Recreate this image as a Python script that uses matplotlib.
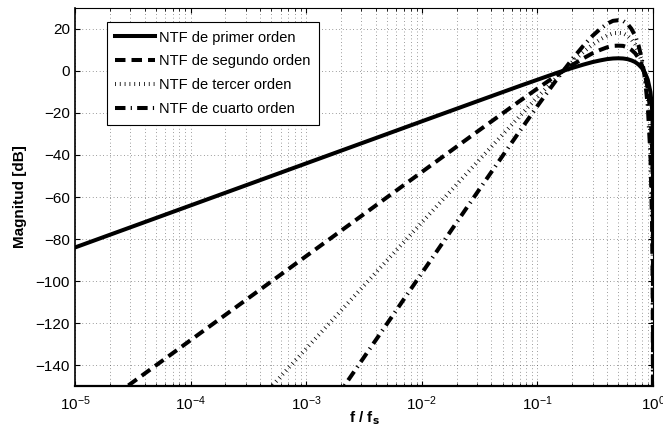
import matplotlib
matplotlib.use("Agg")
import matplotlib.pyplot as plt
import numpy as np

plt.rcParams['font.family'] = ['Liberation Sans', 'DejaVu Sans']

# === Data ===
freq = [1e-5, 1e-4, 1e-3, 1e-2, 0.03, 0.05, 0.07, 0.1, 0.15, 0.2, 0.25, 0.3, 0.35,
        0.4, 0.45, 0.5, 0.55, 0.6, 0.65, 0.7, 0.75, 0.8, 0.85, 0.9, 0.95, 0.98,
        0.99, 0.995, 0.999, 0.9999, 0.99999]
mag_1 = [-84.0, -64.0, -44.0, -24.0, -14.5, -10.1, -7.2, -4.2, -0.8, 1.4, 3.0, 4.2,
         5.0, 5.6, 5.9, 6.0, 5.9, 5.6, 5.0, 4.2, 3.0, 1.4, -0.8, -4.2, -10.1, -18.0,
         -24.0, -30.1, -44.0, -64.0, -84.0]
mag_2 = [-168.1, -128.1, -88.1, -48.1, -29.0, -20.2, -14.4, -8.4, -1.7, 2.8, 6.0, 8.4,
         10.0, 11.2, 11.9, 12.0, 11.9, 11.2, 10.0, 8.4, 6.0, 2.8, -1.7, -8.4, -20.2, -36.0,
         -48.1, -60.1, -88.1, -128.1, -168.1]
mag_3 = [-252.1, -192.1, -132.1, -72.1, -43.5, -30.3, -21.6, -12.5, -2.5, 4.2, 9.0, 12.5,
         15.0, 16.8, 17.9, 18.1, 17.9, 16.8, 15.0, 12.5, 9.0, 4.2, -2.5, -12.5, -30.3, -54.1,
         -72.1, -90.2, -132.1, -192.1, -252.1]
mag_4 = [-336.2, -256.2, -176.2, -96.2, -58.0, -40.4, -28.8, -16.7, -3.4, 5.6, 12.0, 16.7,
         20.0, 22.4, 23.8, 24.1, 23.8, 22.4, 20.0, 16.7, 12.0, 5.6, -3.4, -16.7, -40.4, -72.1,
         -96.2, -120.2, -176.2, -256.2, -336.2]
labels = ["NTF de primer orden", "NTF de segundo orden",
          "NTF de tercer orden", "NTF de cuarto orden"]
yticks = [-140, -120, -100, -80, -60, -40, -20, 0, 20]

# === Plot ===
fig = plt.figure(figsize=(6.63, 4.34), dpi=100)
ax = fig.add_axes([0.113, 0.11, 0.872, 0.872])

lw = 2.9
ax.semilogx(freq, mag_1, color="black", linewidth=lw, linestyle="-", label=labels[0])
ax.semilogx(freq, mag_2, color="black", linewidth=lw, linestyle=(0, (2.6, 1.5)), label=labels[1])
ax.semilogx(freq, mag_3, color="black", linewidth=lw, linestyle=(0, (0.2, 1.0)), label=labels[2])
ax.semilogx(freq, mag_4, color="black", linewidth=lw, linestyle=(0, (2.6, 1.3, 0.3, 1.3)), label=labels[3])

ax.set_xlim(1e-5, 1)
ax.set_ylim(-150, 30)
ax.set_yticks(yticks)
ax.set_yticklabels([f"\u2212{-v}" if v < 0 else str(v) for v in yticks])

# MATLAB-like dotted grid, minor lines only on the log axis
ax.grid(True, which="major", axis="both", color="0.25", linestyle=(0, (1, 4)), linewidth=0.5)
ax.grid(True, which="minor", axis="x", color="0.25", linestyle=(0, (1, 4)), linewidth=0.5)
ax.tick_params(which="both", direction="in", top=True, right=True, labelsize=11)
ax.tick_params(axis="x", pad=6)
for sp in ax.spines.values():
    sp.set_linewidth(0.8)
ax.spines["bottom"].set_linewidth(1.6)
ax.spines["left"].set_linewidth(1.2)

ax.set_xlabel("f / f$_\\mathbf{s}$", fontweight="bold", fontsize=11, labelpad=-3)
ax.set_ylabel("Magnitud [dB]", fontweight="bold", fontsize=11, labelpad=6)

leg = ax.legend(loc="upper left", bbox_to_anchor=(0.055, 0.963), borderaxespad=0,
                fontsize=10.5, frameon=True, fancybox=False, edgecolor="black", framealpha=1,
                handlelength=2.7, handletextpad=0.3, borderpad=0.6, labelspacing=0.68)
leg.get_frame().set_linewidth(0.8)

plt.savefig("out.png", dpi=100)
